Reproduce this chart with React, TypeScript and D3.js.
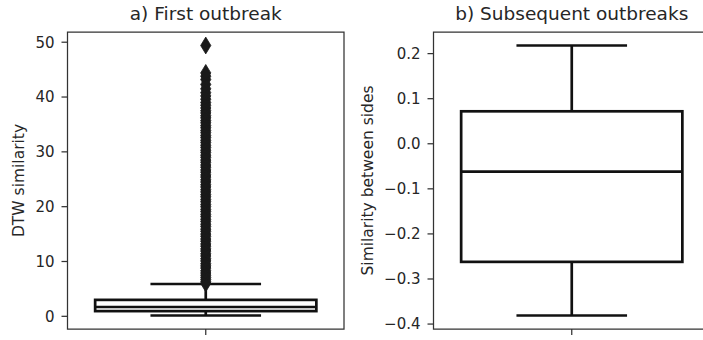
import React from "react";
import * as d3 from "d3";

// ---- Data ----
const panelTitles = ["a) First outbreak", "b) Subsequent outbreaks"];
const yLabels = ["DTW similarity", "Similarity between sides"];

// Panel a: box statistics [whiskerLow, q1, median, q3, whiskerHigh]
const statsA = [0.15, 0.95, 1.7, 3.0, 5.9];
const ticksA = [0, 10, 20, 30, 40, 50];
const outliersA = [
  6.0, 6.3, 6.7, 7.1, 7.5, 7.9, 8.3, 8.8, 9.2, 9.6, 10.1, 10.5, 11.0, 11.4,
  11.9, 12.3, 12.8, 13.2, 13.7, 14.1, 14.6, 15.0, 15.5, 15.9, 16.4, 16.8,
  17.3, 17.7, 18.2, 18.6, 19.1, 19.5, 20.0, 20.4, 20.9, 21.3, 21.8, 22.2,
  22.7, 23.1, 23.6, 24.0, 24.5, 24.9, 25.4, 25.8, 26.3, 26.7, 27.2, 27.6,
  28.1, 28.5, 29.0, 29.4, 29.9, 30.3, 30.8, 31.2, 31.7, 32.1, 32.6, 33.0,
  33.5, 33.9, 34.4, 34.8, 35.3, 35.7, 36.2, 36.6, 37.1, 37.5, 38.0, 38.5,
  39.0, 39.6, 40.2, 40.8, 41.5, 42.3, 43.2, 43.8, 44.4, 49.4,
];
const dataMinA = 0.15;
const dataMaxA = 49.4;

// Panel b
const statsB = [-0.381, -0.262, -0.062, 0.072, 0.218];
const ticksB = [-0.4, -0.3, -0.2, -0.1, 0.0, 0.1, 0.2];
const outliersB: number[] = [];

const W = 703;
const H = 340;
const TEXT = "#262626";
const BOX = "#111111";
const FONT = "DejaVu Sans, sans-serif";

type PanelProps = {
  x0: number;
  x1: number;
  title: string;
  ylabel: string;
  ylabelX: number;
  stats: number[];
  outliers: number[];
  ticks: number[];
  domain: [number, number];
  fmt: (v: number) => string;
};

const TOP = 32;
const BOTTOM = 329;

function Panel(p: PanelProps) {
  const y = d3.scaleLinear().domain(p.domain).range([BOTTOM, TOP]);
  const xb = d3
    .scaleBand<string>()
    .domain(["g"])
    .range([p.x0, p.x1])
    .paddingInner(0.2)
    .paddingOuter(0.1);
  const bx = xb("g") as number;
  const bw = xb.bandwidth();
  const cx = bx + bw / 2;
  const capL = cx - bw / 4;
  const capR = cx + bw / 4;
  const [wl, q1, med, q3, wh] = p.stats;
  const lw = 2.7;
  const dh = 8.4;
  const dw = 5.1;
  const diamond = (v: number) => {
    const yy = y(v);
    return `M${cx},${yy - dh}L${cx + dw},${yy}L${cx},${yy + dh}L${cx - dw},${yy}Z`;
  };
  return (
    <g>
      <text
        x={(p.x0 + p.x1) / 2}
        y={20}
        textAnchor="middle"
        fontSize={18.5}
        fill={TEXT}
        fontFamily={FONT}
      >
        {p.title}
      </text>
      <text
        transform={`translate(${p.ylabelX},${(TOP + BOTTOM) / 2}) rotate(-90)`}
        textAnchor="middle"
        fontSize={15.5}
        fill={TEXT}
        fontFamily={FONT}
      >
        {p.ylabel}
      </text>
      {/* box elements */}
      <line x1={cx} x2={cx} y1={y(q1)} y2={y(wl)} stroke={BOX} strokeWidth={lw} />
      <line x1={cx} x2={cx} y1={y(q3)} y2={y(wh)} stroke={BOX} strokeWidth={lw} />
      <line x1={capL} x2={capR} y1={y(wl)} y2={y(wl)} stroke={BOX} strokeWidth={lw} />
      <line x1={capL} x2={capR} y1={y(wh)} y2={y(wh)} stroke={BOX} strokeWidth={lw} />
      <rect
        x={bx}
        y={y(q3)}
        width={bw}
        height={y(q1) - y(q3)}
        fill="#ffffff"
        stroke={BOX}
        strokeWidth={lw}
      />
      <line x1={bx} x2={bx + bw} y1={y(med)} y2={y(med)} stroke={BOX} strokeWidth={lw} />
      {p.outliers.map((v, i) => (
        <path key={i} d={diamond(v)} fill="#1a1a1a" stroke="#1a1a1a" strokeWidth={0.8} />
      ))}
      {/* spines */}
      <path
        d={`M${p.x0},${TOP}L${p.x0},${BOTTOM}L${p.x1},${BOTTOM}L${p.x1},${TOP}Z`}
        fill="none"
        stroke="#333333"
        strokeWidth={1.25}
      />
      {/* y ticks */}
      {p.ticks.map((t, i) => (
        <g key={i}>
          <line
            x1={p.x0 - 6}
            x2={p.x0}
            y1={y(t)}
            y2={y(t)}
            stroke="#333333"
            strokeWidth={1.25}
          />
          <text
            x={p.x0 - 13}
            y={y(t)}
            dy="0.36em"
            textAnchor="end"
            fontSize={15}
            fill={TEXT}
            fontFamily={FONT}
          >
            {p.fmt(t)}
          </text>
        </g>
      ))}
      {/* x tick */}
      <line x1={cx} x2={cx} y1={BOTTOM} y2={BOTTOM + 6} stroke="#333333" strokeWidth={1.25} />
    </g>
  );
}

function padded(min: number, max: number): [number, number] {
  const r = max - min;
  return [min - 0.05 * r, max + 0.05 * r];
}

export default function App() {
  const fmtA = d3.format("d");
  const fmtB = d3.format(".1f");
  return (
    <svg
      width={W}
      height={H}
      style={{ position: "absolute", left: 0, top: 0, display: "block", background: "#fff" }}
    >
      <rect width={W} height={H} fill="#ffffff" />
      <Panel
        x0={67.5}
        x1={344}
        title={panelTitles[0]}
        ylabel={yLabels[0]}
        ylabelX={24}
        stats={statsA}
        outliers={outliersA}
        ticks={ticksA}
        domain={padded(dataMinA, dataMaxA)}
        fmt={(v) => fmtA(v)}
      />
      <Panel
        x0={433.5}
        x1={710}
        title={panelTitles[1]}
        ylabel={yLabels[1]}
        ylabelX={373}
        stats={statsB}
        outliers={outliersB}
        ticks={ticksB}
        domain={padded(statsB[0], statsB[4])}
        fmt={(v) => fmtB(v)}
      />
    </svg>
  );
}
